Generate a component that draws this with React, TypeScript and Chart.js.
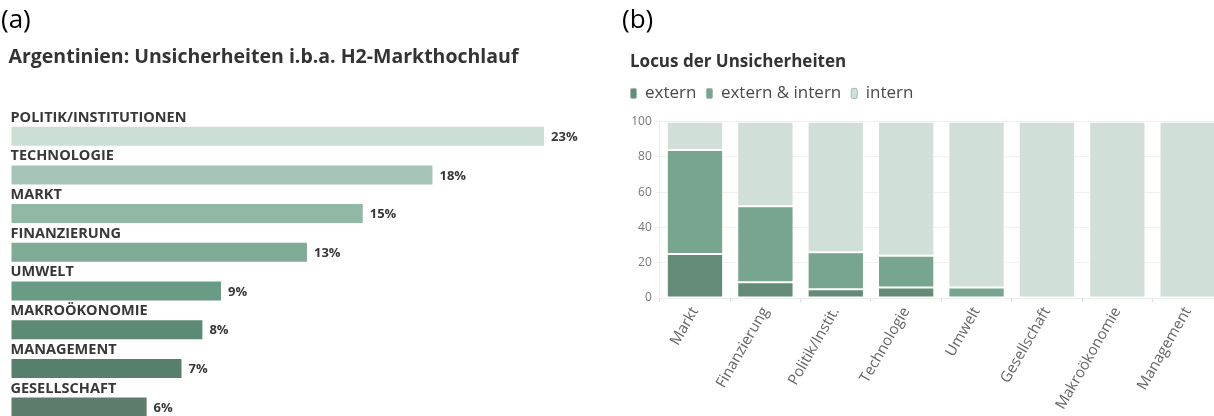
import React, { useEffect, useRef } from "react";
import { Chart, registerables } from "chart.js";

Chart.register(...registerables);

// ---------- Data: panel (a) ----------
const shareCategories = [
  "POLITIK/INSTITUTIONEN",
  "TECHNOLOGIE",
  "MARKT",
  "FINANZIERUNG",
  "UMWELT",
  "MAKROÖKONOMIE",
  "MANAGEMENT",
  "GESELLSCHAFT",
];
const shareValues = [23.0, 18.2, 15.2, 12.8, 9.1, 8.3, 7.4, 5.9];
const shareColors = [
  "#cbded4",
  "#a5c4b5",
  "#91b8a5",
  "#80ab97",
  "#699c85",
  "#5c8a74",
  "#56806b",
  "#5d7c6b",
];

// ---------- Data: panel (b) ----------
const locusCategories = [
  "Markt",
  "Finanzierung",
  "Politik/Instit.",
  "Technologie",
  "Umwelt",
  "Gesellschaft",
  "Makroökonomie",
  "Management",
];
const externValues = [25, 9, 5, 6, 0, 0, 0, 0];
const mixedValues = [59, 43, 21, 18, 6, 0, 0, 0];
const internValues = [16, 48, 74, 76, 94, 100, 100, 100];
const locusSeriesNames = ["extern", "extern & intern", "intern"];
const locusColors = ["#638b78", "#77a58f", "#d0e0d8"];
const locusTicks = [0, 20, 40, 60, 80, 100];

const FONT = '"Open Sans", "Noto Sans", sans-serif';

// shifts title / legend boxes after layout
const nudgePlugin = {
  id: "nudge",
  afterLayout(chart: any, _args: any, opts: any) {
    const t = chart.titleBlock;
    if (t) {
      t.left += opts.titleX || 0;
      t.right += opts.titleX || 0;
      t.top += opts.titleY || 0;
      t.bottom += opts.titleY || 0;
    }
    const l = chart.legend;
    if (l) {
      l.left += opts.legendX || 0;
      l.right += opts.legendX || 0;
      l.top += opts.legendY || 0;
      l.bottom += opts.legendY || 0;
    }
  },
};

// category names above bars and value labels at bar ends
const barLabelPlugin = {
  id: "barLabels",
  afterDatasetsDraw(chart: any) {
    const { ctx, chartArea } = chart;
    const meta = chart.getDatasetMeta(0);
    ctx.save();
    meta.data.forEach((bar: any, i: number) => {
      const { x, y, height } = bar.getProps(["x", "y", "height"], true);
      ctx.fillStyle = "#383838";
      ctx.textAlign = "left";
      ctx.font = `700 14.5px ${FONT}`;
      ctx.textBaseline = "alphabetic";
      ctx.fillText(chart.data.labels[i], chartArea.left, y - height / 2 - 4);
      ctx.font = `700 13px ${FONT}`;
      ctx.textBaseline = "middle";
      ctx.fillText(
        Math.round(chart.data.datasets[0].data[i]) + "%",
        x + 6,
        y + 1
      );
    });
    ctx.restore();
  },
};

function ShareChart() {
  const ref = useRef<HTMLCanvasElement | null>(null);
  useEffect(() => {
    if (!ref.current) return;
    const chart = new Chart(ref.current, {
      type: "bar",
      data: {
        labels: shareCategories,
        datasets: [
          {
            data: shareValues,
            backgroundColor: shareColors,
            borderColor: "rgba(255,255,255,0.55)",
            borderWidth: 1,
            borderSkipped: false,
            categoryPercentage: 1,
            barPercentage: 0.543,
          },
        ],
      },
      options: {
        indexAxis: "y",
        animation: false,
        responsive: false,
        layout: { padding: { left: 10.5, right: 8.5, top: 0, bottom: 3.55 } },
        scales: {
          x: { display: false, min: 0, max: 25 },
          y: { display: false },
        },
        plugins: {
          legend: { display: false },
          tooltip: { enabled: false },
          title: {
            display: true,
            text: "Argentinien: Unsicherheiten i.b.a. H2-Markthochlauf",
            align: "start",
            color: "#333333",
            font: { family: FONT, size: 19.5, weight: "700", lineHeight: 1.2 },
            padding: { top: 45.3, bottom: 48.15 },
          },
          nudge: { titleX: -2 },
        } as any,
      },
      plugins: [nudgePlugin, barLabelPlugin],
    } as any);
    return () => chart.destroy();
  }, []);
  return (
    <canvas
      ref={ref}
      width={600}
      height={430}
      style={{ position: "absolute", left: 0, top: 0 }}
    />
  );
}

function LocusChart() {
  const ref = useRef<HTMLCanvasElement | null>(null);
  useEffect(() => {
    if (!ref.current) return;
    const series = [externValues, mixedValues, internValues];
    const chart = new Chart(ref.current, {
      type: "bar",
      data: {
        labels: locusCategories,
        datasets: series.map((vals, i) => ({
          label: locusSeriesNames[i],
          data: vals,
          backgroundColor: locusColors[i],
          borderColor: "rgba(255,255,255,0.7)",
          borderWidth: 1,
          borderSkipped: false,
          categoryPercentage: 1,
          barPercentage: 0.8,
        })),
      },
      options: {
        animation: false,
        responsive: false,
        layout: { padding: { left: 0, right: 7.1, top: 0, bottom: 0 } },
        scales: {
          x: {
            stacked: true,
            grid: {
              display: true,
              drawOnChartArea: false,
              drawTicks: true,
              tickLength: 4,
              color: "#dddddd",
            },
            border: { display: true, color: "#eeeeee" },
            ticks: {
              color: "#666666",
              font: { family: FONT, size: 15 },
              minRotation: 60,
              maxRotation: 60,
              padding: 2,
            },
            afterFit: (scale: any) => {
              scale.height = 118;
            },
          },
          y: {
            stacked: true,
            min: 0,
            max: 100,
            afterBuildTicks: (scale: any) => {
              scale.ticks = locusTicks.map((v) => ({ value: v }));
            },
            grid: { color: "#f0f0f0", tickLength: 5 },
            border: { display: true, color: "#eeeeee" },
            ticks: {
              color: "#777777",
              font: { family: FONT, size: 12 },
              padding: 3,
            },
            afterFit: (scale: any) => {
              scale.width = 49.8;
            },
          },
        },
        plugins: {
          tooltip: { enabled: false },
          title: {
            display: true,
            text: "Locus der Unsicherheiten",
            align: "start",
            color: "#333333",
            font: { family: FONT, size: 17, weight: "700", lineHeight: 1.2 },
            padding: { top: 52.3, bottom: 12.0 },
          },
          legend: {
            display: true,
            position: "top",
            align: "start",
            labels: {
              color: "#4a4a4a",
              font: { family: FONT, size: 17 },
              boxWidth: 6,
              boxHeight: 10,
              padding: 10,
              useBorderRadius: true,
              borderRadius: 1.5,
              generateLabels: (c: any) =>
                (Chart.defaults.plugins.legend.labels as any)
                  .generateLabels(c)
                  .map((l: any) => ({ ...l, strokeStyle: "#9dbcae", lineWidth: 1 })),
            },
          },
          nudge: { titleX: 20, legendX: 10.5, legendY: -9.8 },
        } as any,
      },
      plugins: [nudgePlugin],
    } as any);
    return () => chart.destroy();
  }, []);
  return (
    <canvas
      ref={ref}
      width={620}
      height={416}
      style={{ position: "absolute", left: 610, top: 0 }}
    />
  );
}

const panelLabelStyle: React.CSSProperties = {
  position: "absolute",
  top: 0,
  fontFamily: FONT,
  fontSize: 26,
  fontWeight: 400,
  color: "#000",
  lineHeight: "normal",
  margin: 0,
};

export default function App() {
  return (
    <div
      style={{
        position: "absolute",
        left: 0,
        top: 0,
        width: 1214,
        height: 416,
        overflow: "hidden",
        background: "#fff",
      }}
    >
      <ShareChart />
      <LocusChart />
      <div style={{ ...panelLabelStyle, left: 1 }}>(a)</div>
      <div style={{ ...panelLabelStyle, left: 622 }}>(b)</div>
    </div>
  );
}
